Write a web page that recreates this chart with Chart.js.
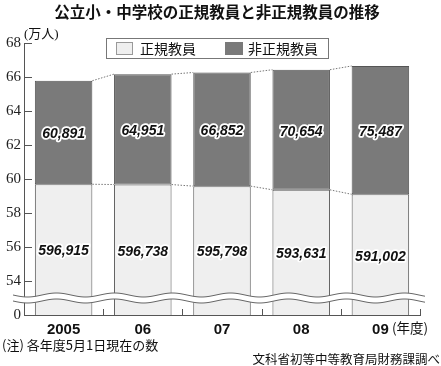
<!DOCTYPE html>
<html>
<head>
<meta charset="utf-8">
<script src="https://cdn.jsdelivr.net/npm/chart.js@4/dist/chart.umd.min.js"></script>
<style>
  html, body { margin: 0; padding: 0; background: #fff; }
</style>
</head>
<body>
<canvas id="teachers" width="441" height="366"></canvas>
<script>
// 年度
const years = ['2005', '06', '07', '08', '09'];
// 正規教員 (人)
const regular = [596915, 596738, 595798, 593631, 591002];
// 非正規教員 (人)
const nonRegular = [60891, 64951, 66852, 70654, 75487];
// y軸目盛り (万人) — 52 の位置に「0」を表示 (省略軸)
const yTicks = [52, 54, 56, 58, 60, 62, 64, 66, 68];

const toMan = v => v / 10000;
const fmt = v => v.toLocaleString('en-US');

const jp = '"Noto Sans CJK JP", "Noto Sans", sans-serif';

const decorPlugin = {
    id: 'decor',
    afterDatasetsDraw(chart) {
        const { ctx, chartArea } = chart;
        const y = chart.scales.y;
        const m0 = chart.getDatasetMeta(0).data;
        const m1 = chart.getDatasetMeta(1).data;

        // 点線の連結線
        ctx.save();
        ctx.strokeStyle = '#777';
        ctx.lineWidth = 1;
        ctx.setLineDash([1.5, 1.5]);
        [m0, m1].forEach(bars => {
            for (let i = 0; i < bars.length - 1; i++) {
                const a = bars[i], b = bars[i + 1];
                ctx.beginPath();
                ctx.moveTo(a.x + a.width / 2, a.y);
                ctx.lineTo(b.x - b.width / 2, b.y);
                ctx.stroke();
            }
        });
        ctx.restore();

        // 省略の波線
        const mid = y.getPixelForValue(53);
        const wave = (off, x) => mid + off + 2 * Math.sin(2 * Math.PI * (x - 13) / 58);
        const x0 = 13, x1 = 425;
        ctx.save();
        ctx.beginPath();
        for (let x = x0; x <= x1; x++) ctx.lineTo(x, wave(-3, x));
        for (let x = x1; x >= x0; x--) ctx.lineTo(x, wave(3, x));
        ctx.closePath();
        ctx.fillStyle = '#fff';
        ctx.fill();
        ctx.strokeStyle = '#666';
        ctx.lineWidth = 1;
        [-3, 3].forEach(off => {
            ctx.beginPath();
            for (let x = x0; x <= x1; x++) ctx.lineTo(x, wave(off, x));
            ctx.stroke();
        });
        ctx.restore();

        // 棒の数値
        ctx.save();
        ctx.font = 'italic bold 14px "Liberation Sans", Arial, sans-serif';
        ctx.textAlign = 'center';
        ctx.textBaseline = 'middle';
        ctx.lineJoin = 'round';
        const label = (txt, x, yy) => {
            ctx.lineWidth = 3.5;
            ctx.strokeStyle = '#fff';
            ctx.strokeText(txt, x, yy);
            ctx.fillStyle = '#111';
            ctx.fillText(txt, x, yy);
        };
        m0.forEach((bar, i) => {
            label(fmt(regular[i]), bar.x, (bar.y + chartArea.bottom) / 2 + 2);
        });
        m1.forEach((bar, i) => {
            label(fmt(nonRegular[i]), bar.x, (bar.y + bar.base) / 2 + 2);
        });
        ctx.restore();
    },
    afterDraw(chart) {
        const { ctx, chartArea } = chart;
        const x = chart.scales.x;
        const y = chart.scales.y;
        ctx.save();
        ctx.strokeStyle = '#555';
        ctx.lineWidth = 1;

        // y軸の内向き目盛り
        yTicks.forEach(v => {
            const py = Math.round(y.getPixelForValue(v)) + 0.5;
            ctx.beginPath();
            ctx.moveTo(chartArea.left, py);
            ctx.lineTo(chartArea.left + 8, py);
            ctx.stroke();
        });
        // x軸の区切り目盛り
        for (let i = 0; i < years.length; i++) {
            const px = i < years.length - 1
                ? (x.getPixelForValue(i) + x.getPixelForValue(i + 1)) / 2
                : chartArea.right;
            const rx = Math.round(px) + 0.5;
            ctx.beginPath();
            ctx.moveTo(rx, chartArea.bottom);
            ctx.lineTo(rx, chartArea.bottom - 6);
            ctx.stroke();
        }

        // タイトル
        ctx.fillStyle = '#111';
        ctx.textBaseline = 'middle';
        ctx.textAlign = 'center';
        ctx.font = 'bold 15.5px ' + jp;
        ctx.fillText('公立小・中学校の正規教員と非正規教員の推移', 217, 12);

        // 単位
        ctx.textAlign = 'left';
        ctx.font = '13px "Liberation Serif", "Noto Sans CJK JP", serif';
        ctx.fillText('(万人)', 24, 35);

        // 凡例
        ctx.strokeStyle = '#777';
        ctx.strokeRect(106.5, 38.5, 222, 20);
        ctx.fillStyle = '#efefef';
        ctx.fillRect(116, 42, 17, 13);
        ctx.strokeStyle = '#999';
        ctx.strokeRect(116.5, 42.5, 16, 12);
        ctx.fillStyle = '#7a7a7a';
        ctx.fillRect(225, 42, 18, 13);
        ctx.fillStyle = '#111';
        ctx.font = '14px ' + jp;
        ctx.fillText('正規教員', 140, 49);
        ctx.fillText('非正規教員', 248, 49);

        // 年度
        ctx.font = '13.5px ' + jp;
        ctx.fillText('(年度)', 392, 328);

        // 注・出典
        ctx.font = '13px ' + jp;
        ctx.fillText('(注) 各年度5月1日現在の数', 2, 345);
        ctx.textAlign = 'right';
        ctx.font = '12.5px ' + jp;
        ctx.fillText('文科省初等中等教育局財務課調べ', 440, 359);
        ctx.restore();
    }
};

new Chart(document.getElementById('teachers'), {
    type: 'bar',
    data: {
        labels: years,
        datasets: [
            {
                label: '正規教員',
                data: regular.map(toMan),
                backgroundColor: '#efefef',
                borderColor: '#555',
                borderWidth: 1,
                borderSkipped: false
            },
            {
                label: '非正規教員',
                data: nonRegular.map(toMan),
                backgroundColor: '#7a7a7a',
                borderColor: '#555',
                borderWidth: 1,
                borderSkipped: false
            }
        ]
    },
    options: {
        responsive: false,
        animation: false,
        events: [],
        layout: { padding: { top: 43, right: 21, left: 0, bottom: 0 } },
        datasets: { bar: { categoryPercentage: 1, barPercentage: 0.726 } },
        plugins: { legend: { display: false }, tooltip: { enabled: false } },
        scales: {
            x: {
                stacked: true,
                offset: true,
                grid: { display: false, drawTicks: false },
                border: { display: true, color: '#555' },
                ticks: {
                    color: '#111',
                    padding: 6,
                    maxRotation: 0,
                    font: { family: '"Liberation Sans", Arial, sans-serif', size: 15, weight: 'bold' }
                },
                afterFit: s => { s.height = 51; }
            },
            y: {
                stacked: true,
                min: 52,
                max: 68,
                grid: { display: false, drawTicks: false },
                border: { display: true, color: '#555' },
                afterBuildTicks: s => { s.ticks = yTicks.map(v => ({ value: v })); },
                ticks: {
                    color: '#222',
                    padding: 3,
                    font: { family: '"Liberation Serif", "Times New Roman", serif', size: 15 },
                    callback: v => (v === 52 ? '0' : v)
                },
                afterFit: s => { s.width = 24; }
            }
        }
    },
    plugins: [decorPlugin]
});
</script>
</body>
</html>
